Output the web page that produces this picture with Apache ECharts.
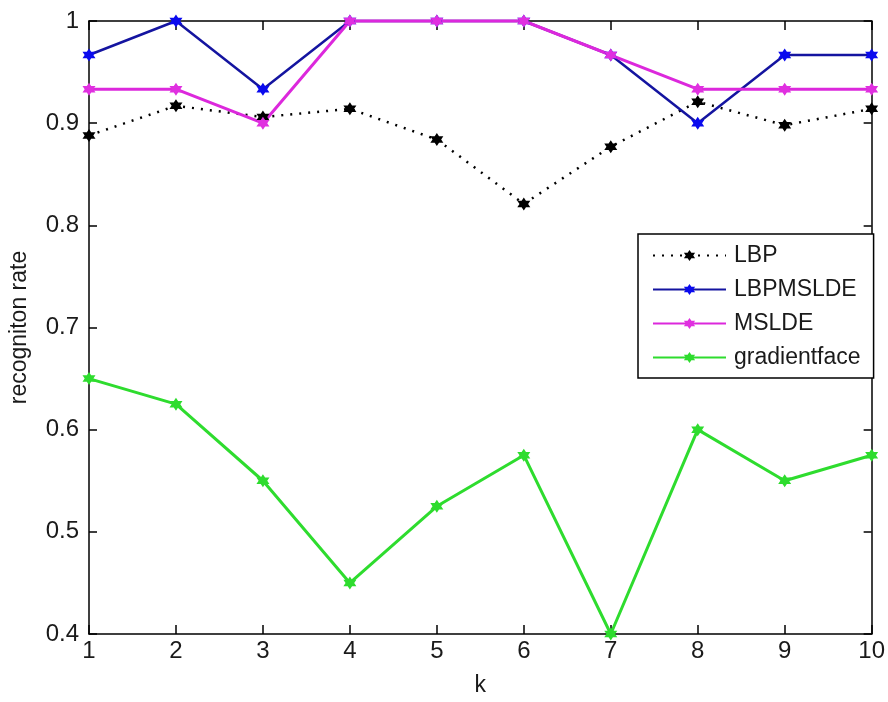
<!DOCTYPE html>
<html>
<head>
<meta charset="utf-8">
<script src="https://cdn.jsdelivr.net/npm/echarts@6/dist/echarts.min.js"></script>
<style>
html,body{margin:0;padding:0;background:#fff;}
#chart{width:888px;height:702px;}
</style>
</head>
<body>
<div id="chart"></div>
<script>
var kValues = [1, 2, 3, 4, 5, 6, 7, 8, 9, 10];
var lbp = [0.888, 0.917, 0.906, 0.914, 0.884, 0.821, 0.877, 0.921, 0.898, 0.914];
var lbpmslde = [0.9667, 1.0, 0.9333, 1.0, 1.0, 1.0, 0.9667, 0.9, 0.9667, 0.9667];
var mslde = [0.9333, 0.9333, 0.9, 1.0, 1.0, 1.0, 0.9667, 0.9333, 0.9333, 0.9333];
var gradientface = [0.65, 0.625, 0.55, 0.45, 0.525, 0.575, 0.4, 0.6, 0.55, 0.575];
var seriesNames = ['LBP', 'LBPMSLDE', 'MSLDE', 'gradientface'];
var xLabel = 'k';
var yLabel = 'recogniton rate';

function pairs(vals) {
  return kValues.map(function (k, i) { return [k, vals[i]]; });
}

var star = 'path://M0,-10 L2.9,-5 L8.7,-5 L5.8,0 L8.7,5 L2.9,5 L0,10 L-2.9,5 L-8.7,5 L-5.8,0 L-8.7,-5 L-2.9,-5 Z';
var FONT = 'Liberation Sans';
var txt = '#1a1a1a';

var chart = echarts.init(document.getElementById('chart'), null, {renderer: 'canvas'});

function axisCommon(extra) {
  return Object.assign({
    axisLine: {show: true, onZero: false, lineStyle: {color: '#000', width: 1.5}},
    splitLine: {show: false}
  }, extra);
}

var option = {
  backgroundColor: '#fff',
  animation: false,
  textStyle: {fontFamily: FONT},
  grid: {left: 87, right: 16, top: 21, bottom: 64, containLabel: false},
  xAxis: [
    axisCommon({
      type: 'value', min: 1, max: 10, interval: 1, position: 'bottom',
      name: xLabel, nameLocation: 'middle', nameGap: 40,
      nameTextStyle: {fontFamily: FONT, fontSize: 23, color: txt},
      axisTick: {show: true, inside: true, length: 9, lineStyle: {color: '#000', width: 1.5}},
      axisLabel: {fontFamily: FONT, fontSize: 24, color: txt, margin: 5}
    }),
    axisCommon({
      type: 'value', min: 1, max: 10, interval: 1, position: 'top',
      axisTick: {show: true, inside: true, length: 9, lineStyle: {color: '#000', width: 1.5}},
      axisLabel: {show: false}
    })
  ],
  yAxis: [
    axisCommon({
      type: 'value', min: 0.4, max: 1, interval: 0.1, position: 'left',
      name: yLabel, nameLocation: 'middle', nameGap: 58, nameRotate: 90,
      nameTextStyle: {fontFamily: FONT, fontSize: 23, color: txt},
      axisTick: {show: true, inside: true, length: 8, lineStyle: {color: '#000', width: 1.5}},
      axisLabel: {fontFamily: FONT, fontSize: 24, color: txt, margin: 10,
        formatter: function (v) { return String(Math.round(v * 10) / 10); }}
    }),
    axisCommon({
      type: 'value', min: 0.4, max: 1, interval: 0.1, position: 'right',
      axisTick: {show: true, inside: true, length: 8, lineStyle: {color: '#000', width: 1.5}},
      axisLabel: {show: false}
    })
  ],
  legend: {
    left: 638, top: 234, orient: 'vertical',
    width: 232,
    padding: [10, 13, 9, 14],
    itemGap: 11,
    itemWidth: 73, itemHeight: 14,
    backgroundColor: '#fff',
    borderColor: '#000', borderWidth: 1.5, borderRadius: 0,
    textStyle: {fontFamily: FONT, fontSize: 23, color: txt, padding: [0, 0, 0, 3]},
    data: seriesNames
  },
  series: [
    {
      name: seriesNames[0], type: 'line', data: pairs(lbp), clip: false,
      symbol: star, symbolSize: 13,
      lineStyle: {color: '#000', width: 2.5, type: [2, 7]},
      itemStyle: {color: '#000'}
    },
    {
      name: seriesNames[1], type: 'line', data: pairs(lbpmslde), clip: false,
      symbol: star, symbolSize: 13,
      lineStyle: {color: '#1414a0', width: 2.5},
      itemStyle: {color: '#0a0aee'}
    },
    {
      name: seriesNames[2], type: 'line', data: pairs(mslde), clip: false,
      symbol: star, symbolSize: 13,
      lineStyle: {color: '#dc28dc', width: 3},
      itemStyle: {color: '#e030e0'}
    },
    {
      name: seriesNames[3], type: 'line', data: pairs(gradientface), clip: false,
      symbol: star, symbolSize: 13,
      lineStyle: {color: '#2edc2e', width: 3},
      itemStyle: {color: '#2edc2e'}
    }
  ]
};
chart.setOption(option);
</script>
</body>
</html>
